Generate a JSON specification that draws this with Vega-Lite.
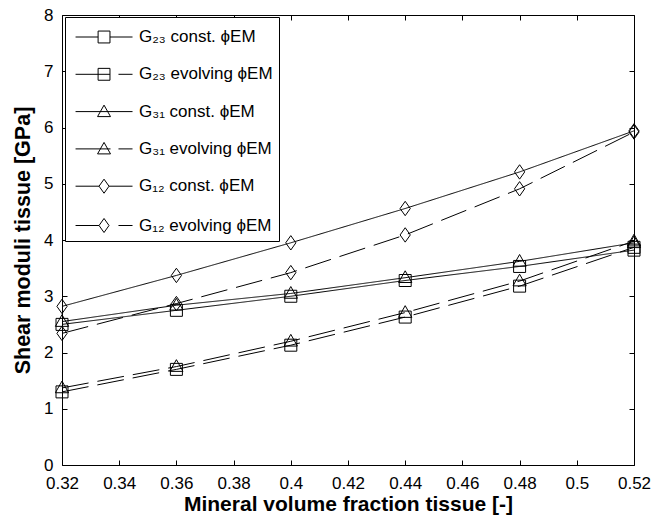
{
  "$schema": "https://vega.github.io/schema/vega-lite/v6.json",
  "width": 572,
  "height": 450,
  "autosize": "none",
  "padding": {"left": 62, "top": 15, "right": 30, "bottom": 58},
  "background": "white",
  "data": {
    "values": [
      {"s": "G₂₃ const. ϕEM", "x": 0.32, "y": 2.50},
      {"s": "G₂₃ const. ϕEM", "x": 0.36, "y": 2.75},
      {"s": "G₂₃ const. ϕEM", "x": 0.40, "y": 3.00},
      {"s": "G₂₃ const. ϕEM", "x": 0.44, "y": 3.28},
      {"s": "G₂₃ const. ϕEM", "x": 0.48, "y": 3.53},
      {"s": "G₂₃ const. ϕEM", "x": 0.52, "y": 3.82},
      {"s": "G₂₃ evolving ϕEM", "x": 0.32, "y": 1.30},
      {"s": "G₂₃ evolving ϕEM", "x": 0.36, "y": 1.70},
      {"s": "G₂₃ evolving ϕEM", "x": 0.40, "y": 2.13},
      {"s": "G₂₃ evolving ϕEM", "x": 0.44, "y": 2.63},
      {"s": "G₂₃ evolving ϕEM", "x": 0.48, "y": 3.18},
      {"s": "G₂₃ evolving ϕEM", "x": 0.52, "y": 3.87},
      {"s": "G₃₁ const. ϕEM", "x": 0.32, "y": 2.55},
      {"s": "G₃₁ const. ϕEM", "x": 0.36, "y": 2.84},
      {"s": "G₃₁ const. ϕEM", "x": 0.40, "y": 3.05},
      {"s": "G₃₁ const. ϕEM", "x": 0.44, "y": 3.33},
      {"s": "G₃₁ const. ϕEM", "x": 0.48, "y": 3.62},
      {"s": "G₃₁ const. ϕEM", "x": 0.52, "y": 3.95},
      {"s": "G₃₁ evolving ϕEM", "x": 0.32, "y": 1.37},
      {"s": "G₃₁ evolving ϕEM", "x": 0.36, "y": 1.75},
      {"s": "G₃₁ evolving ϕEM", "x": 0.40, "y": 2.20},
      {"s": "G₃₁ evolving ϕEM", "x": 0.44, "y": 2.71},
      {"s": "G₃₁ evolving ϕEM", "x": 0.48, "y": 3.27},
      {"s": "G₃₁ evolving ϕEM", "x": 0.52, "y": 3.98},
      {"s": "G₁₂ const. ϕEM", "x": 0.32, "y": 2.82},
      {"s": "G₁₂ const. ϕEM", "x": 0.36, "y": 3.37},
      {"s": "G₁₂ const. ϕEM", "x": 0.40, "y": 3.95},
      {"s": "G₁₂ const. ϕEM", "x": 0.44, "y": 4.56},
      {"s": "G₁₂ const. ϕEM", "x": 0.48, "y": 5.21},
      {"s": "G₁₂ const. ϕEM", "x": 0.52, "y": 5.94},
      {"s": "G₁₂ evolving ϕEM", "x": 0.32, "y": 2.34},
      {"s": "G₁₂ evolving ϕEM", "x": 0.36, "y": 2.87},
      {"s": "G₁₂ evolving ϕEM", "x": 0.40, "y": 3.42},
      {"s": "G₁₂ evolving ϕEM", "x": 0.44, "y": 4.09},
      {"s": "G₁₂ evolving ϕEM", "x": 0.48, "y": 4.91},
      {"s": "G₁₂ evolving ϕEM", "x": 0.52, "y": 5.92}
    ]
  },
  "layer": [
    {
      "mark": {"type": "line", "color": "black", "strokeWidth": 1},
      "encoding": {
        "x": {"field": "x", "type": "quantitative", "scale": {"domain": [0.32, 0.52], "nice": false, "zero": false},
          "axis": {"orient": "bottom", "title": "Mineral volume fraction tissue [-]", "titleFontSize": 21, "values": [0.32, 0.34, 0.36, 0.38, 0.4, 0.42, 0.44, 0.46, 0.48, 0.5, 0.52], "format": ".2~f", "offset": -5, "labelPadding": 10, "titlePadding": 2}},
        "y": {"field": "y", "type": "quantitative", "scale": {"domain": [0, 8], "nice": false},
          "axis": {"orient": "left", "title": "Shear moduli tissue [GPa]", "titleFontSize": 21.5, "values": [0, 1, 2, 3, 4, 5, 6, 7, 8], "offset": -5, "labelPadding": 9, "titlePadding": 9}},
        "strokeDash": {"field": "s", "type": "nominal", "legend": null,
          "scale": {"domain": ["G₂₃ const. ϕEM", "G₂₃ evolving ϕEM", "G₃₁ const. ϕEM", "G₃₁ evolving ϕEM", "G₁₂ const. ϕEM", "G₁₂ evolving ϕEM"],
            "range": [[1, 0], [27, 9], [1, 0], [27, 9], [1, 0], [27, 9]]}}
      }
    },
    {
      "mark": {"type": "point", "filled": false, "color": "black", "strokeWidth": 1, "size": 144, "opacity": 1},
      "encoding": {
        "x": {"field": "x", "type": "quantitative", "axis": null},
        "y": {"field": "y", "type": "quantitative", "axis": null},
        "shape": {"field": "s", "type": "nominal", "legend": null,
          "scale": {"domain": ["G₂₃ const. ϕEM", "G₂₃ evolving ϕEM", "G₃₁ const. ϕEM", "G₃₁ evolving ϕEM", "G₁₂ const. ϕEM", "G₁₂ evolving ϕEM"],
            "range": ["M-1,-1H1V1H-1Z", "M-1,-1H1V1H-1Z", "M0,-1.15L1.1,0.8H-1.1Z", "M0,-1.15L1.1,0.8H-1.1Z", "M0,-1.2L0.85,0L0,1.2L-0.85,0Z", "M0,-1.2L0.85,0L0,1.2L-0.85,0Z"]}}
      }
    },
    {
      "mark": {"type": "point", "filled": false, "color": "black", "opacity": 0, "size": 729},
      "encoding": {
        "x": {"field": "x", "type": "quantitative", "axis": {"orient": "top", "labels": false, "title": null, "offset": -5, "values": [0.32, 0.34, 0.36, 0.38, 0.4, 0.42, 0.44, 0.46, 0.48, 0.5, 0.52]}},
        "y": {"field": "y", "type": "quantitative", "axis": {"orient": "right", "labels": false, "title": null, "offset": -5, "values": [0, 1, 2, 3, 4, 5, 6, 7, 8]}},
        "shape": {"field": "s", "type": "nominal",
          "scale": {"domain": ["G₂₃ const. ϕEM", "G₂₃ evolving ϕEM", "G₃₁ const. ϕEM", "G₃₁ evolving ϕEM", "G₁₂ const. ϕEM", "G₁₂ evolving ϕEM"],
            "range": [
              "M-0.7,0H0.97M1.85,0H3.52M0.97,-0.44H1.85V0.44H0.97Z",
              "M-0.7,0H1.85M2.48,0H3.52M0.97,-0.44H1.85V0.44H0.97Z",
              "M-0.7,0H3.52M1.41,-0.48L1.89,0.37H0.93Z",
              "M-0.7,0H1.89M2.48,0H3.52M1.41,-0.48L1.89,0.37H0.93Z",
              "M-0.7,0H1.04M1.78,0H3.52M1.41,-0.52L1.78,0L1.41,0.52L1.04,0Z",
              "M-0.7,0H1.04M2.48,0H3.52M1.41,-0.52L1.78,0L1.41,0.52L1.04,0Z"
            ]},
          "legend": {
            "title": null, "orient": "none", "legendX": 3, "legendY": 2,
            "strokeColor": "black", "fillColor": "white", "padding": 6,
            "symbolSize": 729, "symbolStrokeColor": "black", "symbolFillColor": "transparent",
            "symbolStrokeWidth": 1, "symbolOpacity": 1,
            "labelFontSize": 17, "labelColor": "black", "labelOffset": 40, "rowPadding": 15.3, "labelLimit": 300
          }}
      }
    }
  ],
  "resolve": {"scale": {"shape": "independent"}, "axis": {"x": "independent", "y": "independent"}},
  "config": {
    "font": "Liberation Sans",
    "view": {"stroke": "black", "strokeWidth": 1},
    "axis": {"domain": false, "tickColor": "black", "labelColor": "black", "titleColor": "black",
      "labelFontSize": 17, "titleFontSize": 20, "titleFontWeight": "bold", "grid": false, "tickSize": 5, "labelFlush": false, "labelOverlap": false, "labelFont": "Liberation Sans", "titleFont": "Liberation Sans"}
  }
}
